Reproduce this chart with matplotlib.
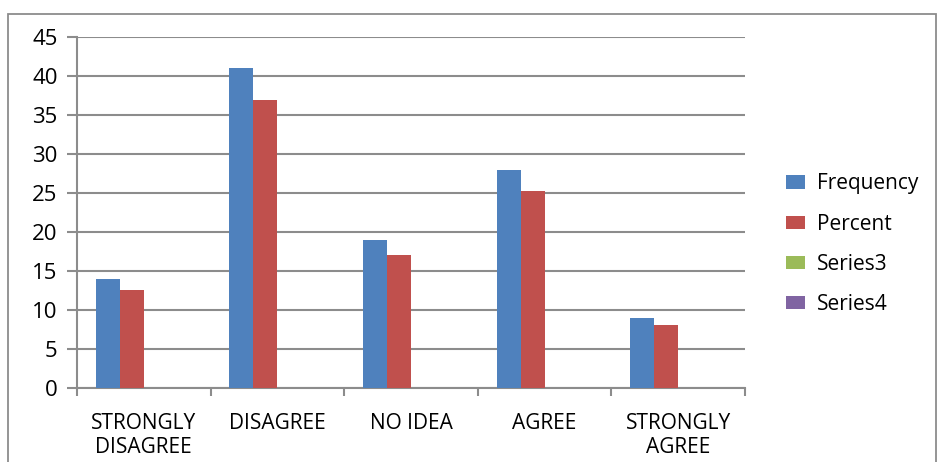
import matplotlib
matplotlib.use("Agg")
import matplotlib.pyplot as plt
import numpy as np
from matplotlib.patches import Rectangle

categories = ["STRONGLY\nDISAGREE", "DISAGREE", "NO IDEA", "AGREE", "STRONGLY\nAGREE"]
frequency = [14, 41, 19, 28, 9]
percent = [12.6, 36.9, 17.1, 25.2, 8.1]
series3 = [0, 0, 0, 0, 0]
series4 = [0, 0, 0, 0, 0]
series_names = ["Frequency", "Percent", "Series3", "Series4"]
colors = ["#4F81BD", "#C0504D", "#9BBB59", "#8064A2"]
yticks = [0, 5, 10, 15, 20, 25, 30, 35, 40, 45]

plt.rcParams['font.family'] = ['Open Sans', 'DejaVu Sans']
fig = plt.figure(figsize=(9.38, 4.62), dpi=100)
ax = fig.add_axes([77/938, 74/462, (745-77)/938, (425-74)/462])

grid_c = "#8C8C8C"
fig.patches.append(Rectangle((8/938, -0.1), (936-8)/938, (462-14)/462 + 0.1,
                             transform=fig.transFigure, fill=False,
                             edgecolor=grid_c, linewidth=1.3))

x = np.arange(len(categories))
w = 0.18
all_series = [frequency, percent, series3, series4]
for i, (vals, name, c) in enumerate(zip(all_series, series_names, colors)):
    ax.bar(x + (i - 1.5) * w, vals, width=w, color=c, label=name,
           linewidth=0, zorder=3)

ax.set_xlim(-0.5, len(categories) - 0.5)
ax.set_ylim(0, 45)
ax.set_yticks(yticks)
ax.yaxis.grid(True, color=grid_c, linewidth=1.5, zorder=0)
ax.set_axisbelow(True)
for s in ["top", "right"]:
    ax.spines[s].set_visible(False)
for s in ["left", "bottom"]:
    ax.spines[s].set_color(grid_c)
    ax.spines[s].set_linewidth(1.5)

ax.set_xticks(np.arange(-0.5, len(categories), 1.0))
ax.set_xticklabels([])
ax.set_xticks(x, minor=True)
ax.set_xticklabels(categories, minor=True, fontsize=15, linespacing=1.2)
ax.tick_params(axis="x", which="major", length=6, color=grid_c, width=1.5, direction="out")
ax.tick_params(axis="x", which="minor", length=0, pad=18)
ax.tick_params(axis="y", length=7, color=grid_c, width=1.5, labelsize=16, pad=7)

leg = ax.legend(loc="center left", bbox_to_anchor=(1.033, 0.41), frameon=False,
                fontsize=15, handlelength=0.9, handleheight=0.6,
                labelspacing=0.92, handletextpad=0.6)

fig.savefig("out.png", dpi=100)
